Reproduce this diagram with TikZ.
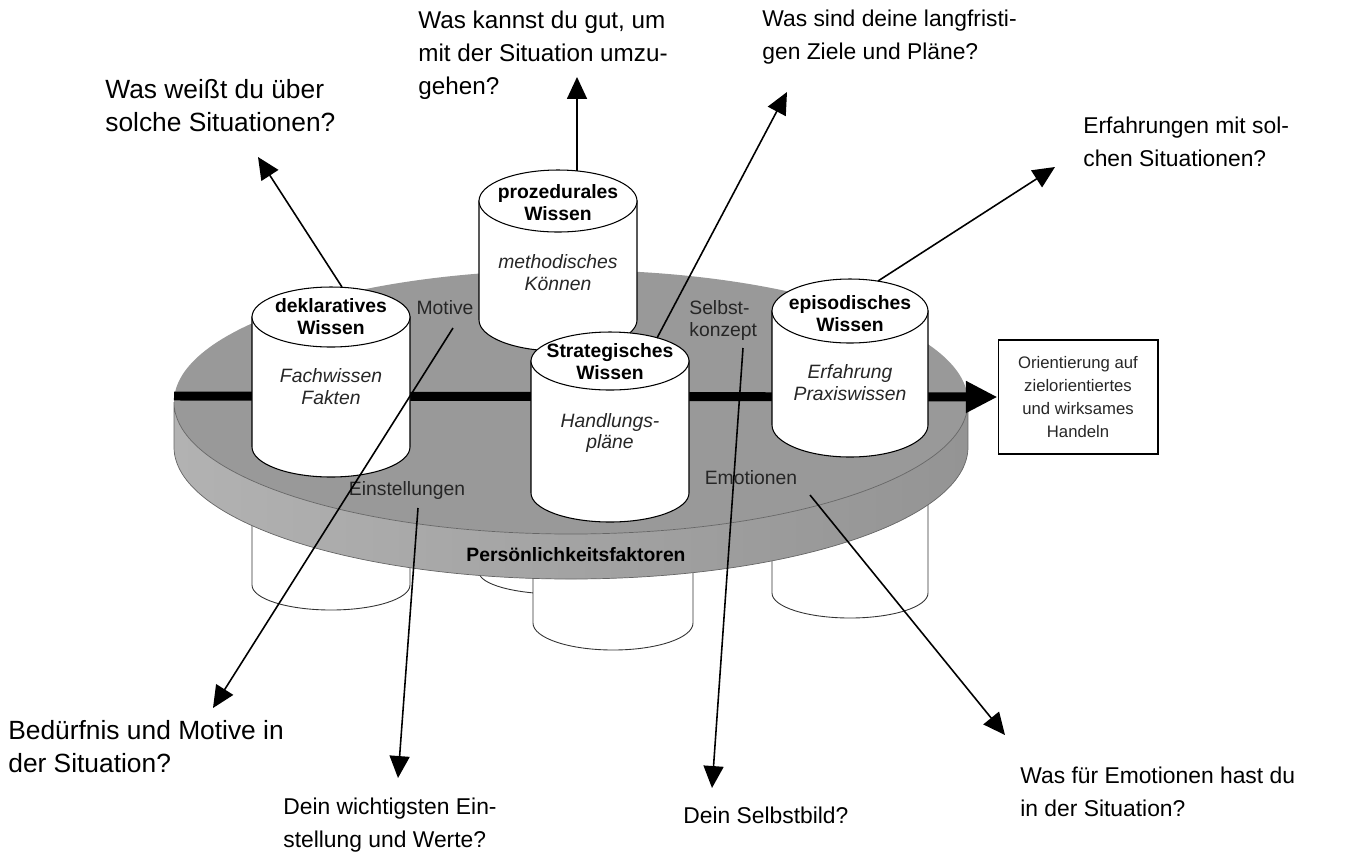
\documentclass[tikz,border=0pt]{standalone}
\usepackage{fontspec}
\setmainfont{Liberation Sans}
\usetikzlibrary{arrows.meta,positioning,calc}
\definecolor{disktop}{RGB}{153,153,153}
\definecolor{sidel}{RGB}{178,178,178}
\definecolor{sidem}{RGB}{136,136,136}
\definecolor{sider}{RGB}{148,148,148}

\begin{document}
\begin{tikzpicture}[x=0.02cm, y=-0.02cm, >={Triangle[length=12.5pt,width=11.4pt]},
    cyl/.style={fill=white, draw=black, line width=0.6pt},
    low/.style={fill=white, draw=black!80, line width=0.5pt},
    q/.style={font=\fontsize{13}{18.8}\selectfont, align=left, anchor=north west, inner sep=0pt},
    qbig/.style={q, font=\fontsize{15}{18.8}\selectfont},
    head/.style={font=\fontsize{11}{12.5}\selectfont\bfseries, align=center, inner sep=0pt},
    body/.style={font=\fontsize{11}{12.5}\selectfont\itshape, align=center, inner sep=0pt, text=black!85},
    lab/.style={font=\fontsize{11}{12.5}\selectfont, inner sep=0pt, text=black!85},
    ask/.style={->, line width=0.9pt}]
  \useasboundingbox (0,0) rectangle (1359,860);
  % ---- cylinders below the disc
  \path[low] (479,520) -- (479,572) arc[start angle=180, end angle=0, x radius=79, y radius=22] -- (637,520) -- cycle;
  \path[low] (533,520) -- (533,623) arc[start angle=180, end angle=0, x radius=80, y radius=27] -- (693,520) -- cycle;
  \path[low] (252,480) -- (252,585) arc[start angle=180, end angle=0, x radius=79, y radius=25] -- (410,480) -- cycle;
  \path[low] (772,480) -- (772,593) arc[start angle=180, end angle=0, x radius=78, y radius=25] -- (928,480) -- cycle;
  % ---- disc
  \path[fill=disktop] (571,402) ellipse[x radius=397, y radius=132];
  \path[left color=sidel, middle color=sidem, right color=sider, draw=black!60, line width=0.4pt]
    (174,402) -- (174,447) arc[start angle=180, end angle=0, x radius=397, y radius=132]
    -- (968,402) arc[start angle=0, end angle=180, x radius=397, y radius=132] -- cycle;
  \node[lab, font=\fontsize{11}{12.5}\selectfont\bfseries, text=black] (pers) at (576,555) {Persönlichkeitsfaktoren};
  % ---- main arrow
  \node[draw, line width=0.6pt, minimum width=3.2cm, minimum height=2.28cm, align=center,
        font=\fontsize{9.5}{13}\selectfont, text=black!85] (goal) at (1078,397)
        {Orientierung auf\\zielorientiertes\\und wirksames\\Handeln};
  \coordinate (start) at (174,396);
  \draw[line width=5.1pt, -{Triangle[length=18pt,width=17pt]}] (start) -- (goal.west);
  % ---- cylinders on the disc
  \begin{scope}[shift={(558,201)}]
    \path[cyl] (-79,0) -- (-79,119) arc[start angle=180, end angle=0, x radius=79, y radius=31] -- (79,0) -- cycle;
    \path[cyl] (0,0) ellipse[x radius=79, y radius=31];
    \node[head] (proz) at (0,2) {prozedurales\\Wissen};
    \node[body] (prozT) at (0,72) {methodisches\\Können};
    \coordinate (prozTop) at (19,-30);
  \end{scope}
  \begin{scope}[shift={(331,317)}]
    \path[cyl] (-79,0) -- (-79,130) arc[start angle=180, end angle=0, x radius=79, y radius=30] -- (79,0) -- cycle;
    \path[cyl] (0,0) ellipse[x radius=79, y radius=30];
    \node[head] (dekl) at (0,0) {deklaratives\\Wissen};
    \node[body] (deklT) at (0,70) {Fachwissen\\Fakten};
    \coordinate (deklTop) at (11,-30);
  \end{scope}
  \begin{scope}[shift={(850,311)}]
    \path[cyl] (-78,0) -- (-78,114) arc[start angle=180, end angle=0, x radius=78, y radius=32] -- (78,0) -- cycle;
    \path[cyl] (0,0) ellipse[x radius=78, y radius=32];
    \node[head] (epi) at (0,3) {episodisches\\Wissen};
    \node[body] (epiT) at (0,72) {Erfahrung\\Praxiswissen};
    \coordinate (epiTop) at (28,-30);
  \end{scope}
  \begin{scope}[shift={(610,361)}]
    \path[cyl] (-79,0) -- (-79,132) arc[start angle=180, end angle=0, x radius=79, y radius=29] -- (79,0) -- cycle;
    \path[cyl] (0,0) ellipse[x radius=79, y radius=29];
    \node[head] (strat) at (0,1) {Strategisches\\Wissen};
    \node[body] (stratT) at (0,72) {Handlungs-\\pläne};
    \coordinate (stratTop) at (47,-23);
  \end{scope}
  % ---- labels on the disc
  \node[lab] (mot) at (445,308) {Motive};
  \node[lab, align=left, anchor=north west] (selbst) at (689,300) {Selbst-\\konzept};
  \node[lab] (emo) at (751,478) {Emotionen};
  \node[lab] (einst) at (407,490) {Einstellungen};
  % ---- questions
  \node[qbig] (q1) at (105,79) {Was weißt du über\\solche Situationen?};
  \node[q, font=\fontsize{13.8}{18.8}\selectfont] (q2) at (418,11) {Was kannst du gut, um\\mit der Situation umzu-\\gehen?};
  \node[q] (q3) at (762,10) {Was sind deine langfristi-\\gen Ziele und Pläne?};
  \node[q] (q4) at (1083,117) {Erfahrungen mit sol-\\chen Situationen?};
  \node[qbig] (q5) at (8,720) {Bedürfnis und Motive in\\der Situation?};
  \node[q] (q6) at (283,798) {Dein wichtigsten Ein-\\stellung und Werte?};
  \node[q] (q7) at (683,807) {Dein Selbstbild?};
  \node[q] (q8) at (1020,767) {Was für Emotionen hast du\\in der Situation?};
  \coordinate (q1tip) at (258,157); \coordinate (q2tip) at (577,77);
  \coordinate (q3tip) at (787,92);  \coordinate (q4tip) at (1055,167);
  \coordinate (q5tip) at (213,708); \coordinate (q6tip) at (398,778);
  \coordinate (q7tip) at (712,788); \coordinate (q8tip) at (1005,735);
  \coordinate (motS) at (453,328);  \coordinate (einS) at (418,508);
  \coordinate (selS) at (743,348);  \coordinate (emoS) at (810,495);
  % ---- arrows
  \draw[ask] (deklTop) -- (q1tip);
  \draw[ask] (prozTop) -- (q2tip);
  \draw[ask] (stratTop) -- (q3tip);
  \draw[ask] (epiTop) -- (q4tip);
  \draw[ask] (motS) -- (q5tip);
  \draw[ask] (einS) -- (q6tip);
  \draw[ask] (selS) -- (q7tip);
  \draw[ask] (emoS) -- (q8tip);
\end{tikzpicture}
\end{document}
